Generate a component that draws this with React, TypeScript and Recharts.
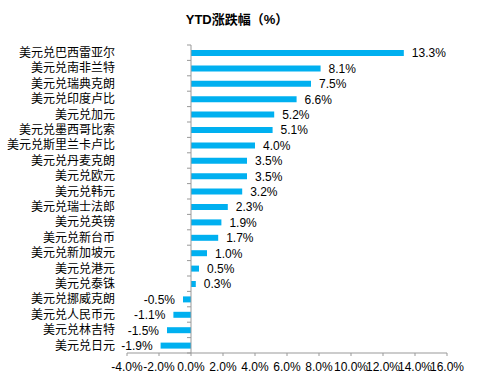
import React from 'react';
import { BarChart, Bar, XAxis, YAxis, ReferenceLine, LabelList } from 'recharts';

const categories = [
  '美元兑巴西雷亚尔', '美元兑南非兰特', '美元兑瑞典克朗', '美元兑印度卢比', '美元兑加元',
  '美元兑墨西哥比索', '美元兑斯里兰卡卢比', '美元兑丹麦克朗', '美元兑欧元', '美元兑韩元',
  '美元兑瑞士法郎', '美元兑英镑', '美元兑新台币', '美元兑新加坡元', '美元兑港元',
  '美元兑泰铢', '美元兑挪威克朗', '美元兑人民币元', '美元兑林吉特', '美元兑日元',
];
const values = [13.3, 8.1, 7.5, 6.6, 5.2, 5.1, 4.0, 3.5, 3.5, 3.2, 2.3, 1.9, 1.7, 1.0, 0.5, 0.3, -0.5, -1.1, -1.5, -1.9];
const xTicks = [-4, -2, 0, 2, 4, 6, 8, 10, 12, 14, 16];
const title = 'YTD涨跌幅（%）';

const data = categories.map((name, i) => ({ name, value: values[i] }));

const NUM_FONT = '"Liberation Sans", Arial, sans-serif';
const CJK_FONT = '"Noto Sans CJK SC", sans-serif';
const AXIS_COLOR = '#999999';

const AxisWithTicks = (props: any) => {
  const { x1, y1, x2, y2 } = props;
  const top = Math.min(y1, y2);
  const bottom = Math.max(y1, y2);
  const n = categories.length;
  const step = (bottom - top) / n;
  let d = `M${x1},${top}L${x2},${bottom}`;
  for (let i = 0; i <= n; i++) {
    const yy = top + i * step;
    d += `M${x1 - 4},${yy}L${x1},${yy}`;
  }
  return <path d={d} stroke={AXIS_COLOR} strokeWidth={1} fill="none" />;
};

const ValueLabel = (props: any) => {
  const { x, y, width, height, value } = props;
  const left = Math.min(x, x + width);
  const right = Math.max(x, x + width);
  const cy = Math.min(y, y + height) + Math.abs(height) / 2;
  const pos = value >= 0;
  return (
    <text
      x={pos ? right + 8 : left - 8}
      y={cy}
      dy="0.36em"
      textAnchor={pos ? 'start' : 'end'}
      fontSize={12}
      fontFamily={NUM_FONT}
      fill="#000"
    >
      {`${Number(value).toFixed(1)}%`}
    </text>
  );
};

export default function App() {
  return (
    <div style={{ position: 'absolute', left: 0, top: 0, width: 480, height: 382, background: '#fff' }}>
      <div
        style={{
          position: 'absolute',
          left: 0,
          top: 11,
          width: 474,
          textAlign: 'center',
          fontSize: 13,
          fontWeight: 'bold',
          fontFamily: `"Liberation Sans", "Noto Sans CJK SC", sans-serif`,
          color: '#000',
          lineHeight: '18px',
        }}
      >
        {title}
      </div>
      <BarChart
        width={480}
        height={382}
        data={data}
        layout="vertical"
        margin={{ top: 45, right: 33, bottom: 9, left: 0 }}
        barCategoryGap={0}
      >
        <XAxis
          type="number"
          domain={[-4, 16]}
          ticks={xTicks}
          interval={0}
          allowDataOverflow
          tickFormatter={(v: number) => `${v.toFixed(1)}%`}
          height={20}
          axisLine={{ stroke: AXIS_COLOR }}
          tickLine={{ stroke: AXIS_COLOR }}
          tickSize={3}
          tickMargin={6}
          tick={{ fontSize: 12, fontFamily: NUM_FONT, fill: '#000' }}
        />
        <YAxis
          type="category"
          dataKey="name"
          width={127}
          axisLine={false}
          tickLine={false}
          tickSize={0}
          tickMargin={12}
          interval={0}
          tick={{ fontSize: 12, fontFamily: CJK_FONT, fill: '#000' }}
        />
        <Bar dataKey="value" fill="#00B0F0" barSize={6} isAnimationActive={false}>
          <LabelList dataKey="value" content={ValueLabel} />
        </Bar>
        <ReferenceLine x={0} stroke={AXIS_COLOR} shape={AxisWithTicks} ifOverflow="extendDomain" />
      </BarChart>
    </div>
  );
}
